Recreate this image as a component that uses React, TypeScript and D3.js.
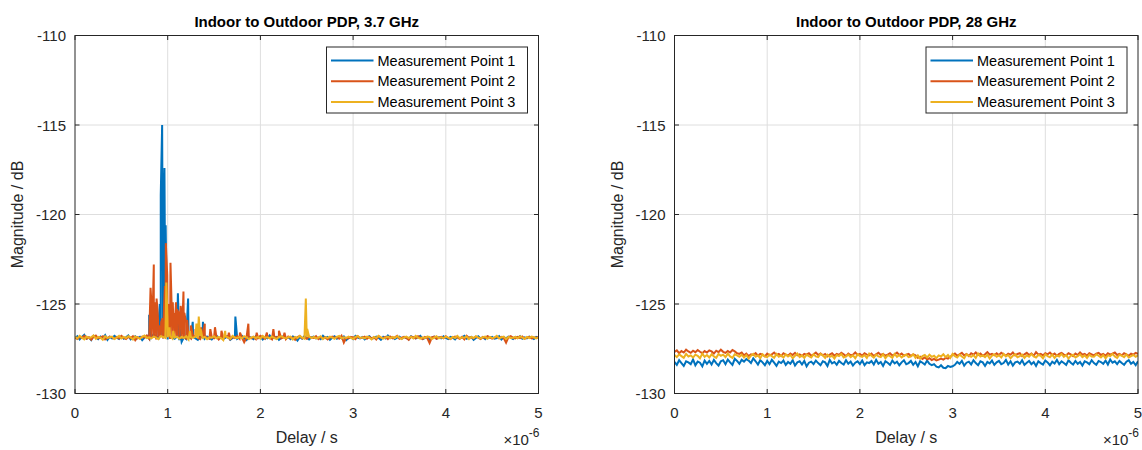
import React, { useEffect, useRef } from "react";
import * as d3 from "d3";

const delayTicks = [0, 1, 2, 3, 4, 5];
const magTicks = [-130, -125, -120, -115, -110];
const seriesNames = ["Measurement Point 1", "Measurement Point 2", "Measurement Point 3"];
const seriesColors = ["#0072BD", "#D95319", "#EDB120"];
const titles = ["Indoor to Outdoor PDP, 3.7 GHz", "Indoor to Outdoor PDP, 28 GHz"];

// noise floor: offsets from the base level in 0.02 dB steps, evenly spaced over 0..5 us
const floorUnit = 0.02;
const base37 = [-127.08, -127.08, -127.08];
const floor37mp1 = [
  8, 14, 5, 12, 18, 7, 10, 3, 15, 11, 6, 13, 9, 17, 4, 12, 8, 15, 10, 6,
  13, 7, 11, 16, 5, 9, 14, 8, 12, 3, 10, 15, 7, 11, 20, 13, 9, 16, 8, 12,
  5, 14, 10, 7, 13, 3, -2, 11, 6, 15, 9, 12, 8, 4, 14, 10, 7, 13, 9, 5,
  11, 16, 8, 12, 6, 10, 14, 4, 9, 13, 7, 11, 15, 8, 3, 12, 10, 6, 14, 9,
  13, 5, 11, 8, 16, 7, 10, 12, 4, 9, 15, 8, 11, 6, 13, 10, 2, 12, 7, 14,
  9, 5, 11, 13, 8, 10, 6, 15, 9, 12, 4, 10, 14, 7, 11, 8, 13, 3, 9, 12,
  6, 15, 10, 8, 12, 5, 11, 14, 7, 9, 13, 10, 4, 12, 8, 16, 9, 11, 6, 10,
  13, 7, 12, 9, 5, 14, 10, 8, 11, 15, 6, 9, 12, 4, 10, 13, 7, 11, 8, 14,
  9, 6, 12, 10, 5, 13, 8, 11, 15, 7, 10, 12, 4, 9, 14, 8, 11, 6, 13, 10,
  12, 7, 9, 14, 5, 11, 8, 13, 10, 6, 12, 9, 14, 7, 11, 8, 13, 10, 6, 12, 9,
];
const floor37mp2 = [
  10, 6, 13, 9, 15, 7, 11, 4, 12, 16, 8, 10, 14, 5, 9, 13, 11, 7, 12, 8,
  15, 10, 6, 12, 9, 14, 3, 11, 8, 13, 10, 16, 7, 12, 9, 5, 11, 14, 8, 10,
  13, 6, 12, 9, 15, 11, 7, 10, 4, 13, 8, 12, 16, 9, 6, 11, 14, 10, 7, 12,
  9, 13, 5, 11, 8, 15, 10, 6, 12, 9, 14, 7, 11, -3, 10, 13, 8, 12, 6, 9,
  15, 11, 7, 13, 9, 5, 12, 10, 14, 8, 11, 6, 13, 9, 10, 4, 12, 15, 8, 11,
  7, 13, 10, 9, 14, 6, 12, 8, 11, 5, 10, 13, 9, 12, 7, 15, -4, 10, 8, 12,
  11, 6, 14, 9, 10, 13, 7, 12, 8, 11, 5, 14, 10, 9, 12, 6, 13, 8, 11, 15,
  7, 10, 12, 9, 4, 13, 11, 8, 14, 10, 6, 12, 9, -5, 11, 13, 7, 10, 12, 8,
  14, 9, 6, 11, 13, 10, 7, 12, 5, 15, 9, 11, 8, 13, 10, 6, 12, 9, 14, 11,
  7, 10, 13, 8, 12, 9, -4, 11, 14, 10, 8, 12, 9, 13, 7, 10, 12, 8, 11, 9, 12,
];
const floor37mp3 = [
  12, 8, 15, 10, 5, 13, 9, 11, 16, 7, 12, 10, 4, 14, 9, 11, 13, 6, 10, 15,
  8, 12, 9, 14, 11, 5, 13, 10, 7, 12, 16, 9, 11, 8, 13, 10, 6, 14, 12, 9,
  11, 15, 8, 10, 13, 7, 12, 9, 14, 5, 11, 10, 13, 8, 15, 9, 12, 6, 11, 10,
  14, 8, 12, 9, 3, 13, 11, 7, 15, 10, 9, 12, 8, 14, 11, 6, 10, 13, 9, 12,
  7, 15, 10, 11, 8, 13, 9, 6, 12, 14, 10, 8, 11, 13, 5, 12, 9, 15, 10, 7,
  11, 13, 9, 12, 8, 10, 14, 6, 11, 9, 13, 10, 7, 12, 15, 8, 11, 9, 13, 10,
  6, 12, 14, 9, 11, 8, 13, 10, 5, 12, 9, 15, 11, 7, 10, 13, 8, 12, 9, 14,
  10, 6, 11, 13, 9, 12, 8, 15, 10, 7, 11, 9, 13, 12, 6, 10, 14, 8, 11, 9,
  13, 10, 7, 12, 9, 15, 8, 11, 10, 13, 6, 12, 9, 14, 10, 8, 11, 13, 7, 12,
  9, 10, 15, 8, 11, 13, 6, 12, 9, 10, 12, 8, 14, 10, 7, 12, 9, 13, 11, 8, 10,
];

// multipath spikes [delay us, dB]
const peaks37mp1 = [
  [0.8, -125.6], [0.9, -126.2], [0.915, -125.0], [0.925, -118.9], [0.94, -115.0],
  [0.952, -121.5], [0.965, -117.4], [0.978, -120.6], [0.99, -125.5], [1.005, -126.0],
  [1.11, -124.4], [1.125, -126.2], [1.22, -124.7], [1.27, -126.0], [1.38, -126.0],
  [1.73, -125.7],
];
const peaks37mp2 = [
  [0.815, -124.1], [0.825, -125.0], [0.835, -125.5], [0.842, -124.6], [0.85, -122.8],
  [0.865, -124.9], [0.872, -125.6], [0.88, -124.7], [0.888, -125.2], [0.895, -125.8],
  [0.905, -126.2], [0.93, -126.0], [0.945, -125.8], [0.96, -125.2], [0.97, -124.0],
  [0.98, -121.6], [0.995, -123.4], [1.01, -125.0], [1.02, -125.4], [1.03, -122.7],
  [1.045, -125.6], [1.055, -124.9], [1.06, -125.9], [1.07, -125.5], [1.08, -125.8],
  [1.09, -124.9], [1.1, -125.3], [1.12, -125.5], [1.13, -126.0], [1.14, -125.1],
  [1.15, -125.6], [1.16, -125.9], [1.17, -124.3], [1.18, -125.5], [1.19, -125.8],
  [1.2, -126.0], [1.21, -125.9], [1.25, -126.2], [1.3, -126.4], [1.36, -126.3],
  [1.4, -126.1], [1.46, -126.4], [1.51, -126.3], [1.58, -126.5], [1.66, -126.6],
  [1.78, -126.6], [1.87, -126.1], [1.96, -126.6], [2.07, -126.6], [2.14, -126.4],
  [2.2, -126.5], [2.26, -126.6],
];
const peaks37mp3 = [
  [0.985, -123.8], [0.998, -125.8], [1.02, -126.3], [1.06, -126.5], [1.24, -126.5],
  [1.31, -126.1], [1.335, -125.7], [1.355, -126.4], [1.62, -126.5], [2.49, -124.7],
  [2.505, -126.4],
];

const base28 = [-128.3, -127.95, -127.93];
const floor28mp1 = [
  3, -5, 8, 0, -8, 5, 2, -3, 10, -6, 4, 1, -9, 7, -2, 6, -4, 9, 0, -7,
  5, 8, -3, 10, 2, -5, 12, 6, -2, 9, 4, 11, 7, 0, 13, 5, -4, 8, 2, -6,
  6, -3, 9, 1, -8, 4, 0, 7, -5, 3, -2, 8, -7, 2, 5, -4, 6, -9, 1, 4,
  -3, 7, 0, -6, 5, 2, -8, 9, -1, 3, -5, 6, 0, -4, 8, -2, 4, -7, 1, 5,
  -3, 7, -6, 2, 0, 6, -4, 9, -2, 3, -8, 5, 1, -5, 7, -1, 4, -6, 2, 8,
  -3, 0, 6, -5, 3, -9, 5, 1, -4, 7, -2, -6, -3, -10, -12, -6, -13, -14, -8, -11,
  -9, -5, 3, -2, 6, -7, 1, 4, -4, 8, 0, -6, 5, 2, -8, 3, -1, 7, -5, 2,
  6, -3, 0, 9, -4, 5, -7, 2, 4, -2, 8, -5, 1, 6, -3, 3, -8, 5, 0, -4,
  7, 2, -6, 4, -1, 9, -3, 5, 0, -5, 8, 1, -4, 6, -2, 3, -7, 5, 2, -3,
  8, 0, -5, 6, 3, -2, 7, -4, 10, 1, 5, -3, 6, 0, -5, 4, 8, -2, 3, -6, 5,
];
const floor28mp2 = [
  14, 18, 10, 16, 12, 20, 15, 11, 17, 13, 19, 14, 10, 16, 12, 18, 15, 9, 17, 13,
  20, 14, 11, 16, 12, 19, 15, 10, 8, 12, 4, 9, 2, 7, 5, 10, 3, 8, 6, 1,
  9, 4, 7, 12, 5, 8, 2, 10, 6, 3, 9, 5, 11, 4, 7, 2, 8, 6, 10, 3,
  7, 12, 5, 9, 4, 8, 1, 6, 10, 3, 8, 5, 11, 7, 2, 9, 4, 6, 12, 5,
  8, 3, 10, 6, 4, 9, 2, 7, 11, 5, 8, 3, 6, 10, 4, 7, 12, 5, 9, 3,
  6, 8, 2, 7, 4, -3, 0, -6, -2, -7, -4, -9, -6, -10, -8, -5, -8, -3, -5, 0,
  5, 9, 3, 7, 11, 4, 8, 2, 10, 6, 12, 5, 9, 3, 7, 13, 6, 8, 4, 10,
  5, 11, 7, 3, 9, 6, 12, 4, 8, 10, 2, 7, 11, 5, 9, 3, 13, 6, 8, 4,
  10, 7, 12, 5, 9, 3, 8, 11, 6, 4, 10, 7, 2, 9, 5, 12, 6, 8, 3, 10,
  7, 4, 9, 11, 5, 8, 3, 10, 6, 9, 12, 5, 8, 4, 10, 7, 3, 9, 6, 11, 8,
];
const floor28mp3 = [
  4, -2, 6, 1, -4, 7, 0, 3, -3, 5, 2, -5, 8, -1, 4, -3, 6, 0, -4, 7,
  2, 5, -2, 8, 0, -4, 6, 3, -1, 5, -3, 4, -6, 2, 7, -1, 3, -5, 6, 0,
  -2, 5, 1, -4, 7, -1, 3, -3, 6, 0, 4, -5, 2, 8, -2, 3, -4, 5, 1, -3,
  6, 0, -2, 7, 3, -4, 5, -1, 2, -6, 4, 1, 7, -3, 0, 5, -2, 3, -5, 6,
  1, -1, 4, -4, 8, 2, -3, 5, 0, -2, 6, -5, 3, 1, -4, 7, -1, 4, -3, 2,
  5, -2, 0, 6, -4, 3, -6, 1, 4, -3, 5, -1, 2, -5, 3, 0, 6, -2, 4, -4,
  7, 1, -3, 5, 0, -5, 6, 2, -1, 4, -4, 8, 0, 3, -2, 5, -6, 2, 6, -1,
  3, -3, 7, 0, 4, -5, 2, 6, -2, 1, 5, -4, 3, -1, 7, 0, -3, 4, 2, -5,
  6, 1, -2, 5, -4, 3, 0, 7, -1, 4, -6, 2, 5, -3, 1, 6, -2, 3, -4, 5,
  0, -1, 6, 2, -3, 4, -5, 3, 1, 7, 0, -4, 5, 2, -2, 6, -3, 1, 4, -1, 3,
];

const panels = [
  {
    title: titles[0],
    bases: base37,
    floors: [floor37mp1, floor37mp2, floor37mp3],
    peaks: [peaks37mp1, peaks37mp2, peaks37mp3],
  },
  {
    title: titles[1],
    bases: base28,
    floors: [floor28mp1, floor28mp2, floor28mp3],
    peaks: [[], [], []],
  },
];

const font = "'Liberation Sans', Arial, Helvetica, sans-serif";
const textColor = "#262626";

function App() {
  const svgRef = useRef(null);

  useEffect(() => {
    let svg = d3.select(svgRef.current);
    svg.selectAll("*").remove();

    let lefts = [75, 674.5];
    let plotWidth = 463.5;
    let top = 35.5;
    let bottom = 393.5;

    panels.forEach((panel, p) => {
      let x0 = lefts[p];
      let x1 = x0 + plotWidth;

      let xScale = d3.scaleLinear().domain([0, 5]).range([x0, x1]);
      let yScale = d3.scaleLinear().domain([-130, -110]).range([bottom, top]);

      let g = svg.append("g");

      g.append("rect")
        .attr("x", x0)
        .attr("y", top)
        .attr("width", plotWidth)
        .attr("height", bottom - top)
        .style("fill", "#ffffff");

      // grid
      g.selectAll(".vgrid")
        .data(delayTicks.slice(1, -1))
        .enter()
        .append("line")
        .attr("x1", (d) => xScale(d))
        .attr("x2", (d) => xScale(d))
        .attr("y1", top)
        .attr("y2", bottom)
        .style("stroke", "#dedede")
        .style("stroke-width", 1);

      g.selectAll(".hgrid")
        .data(magTicks.slice(1, -1))
        .enter()
        .append("line")
        .attr("x1", x0)
        .attr("x2", x1)
        .attr("y1", (d) => yScale(d))
        .attr("y2", (d) => yScale(d))
        .style("stroke", "#dedede")
        .style("stroke-width", 1);

      let clipId = "clip-" + p;
      svg.append("clipPath")
        .attr("id", clipId)
        .append("rect")
        .attr("x", x0)
        .attr("y", top)
        .attr("width", plotWidth)
        .attr("height", bottom - top);

      let line = d3
        .line()
        .x((d) => xScale(d[0]))
        .y((d) => yScale(d[1]));

      panel.floors.forEach((floor, s) => {
        let step = 5 / (floor.length - 1);
        let pts = floor.map((v, i) => [i * step, panel.bases[s] + v * floorUnit]);
        let all = pts.concat(panel.peaks[s]).sort((a, b) => a[0] - b[0]);

        g.append("path")
          .datum(all)
          .attr("d", line)
          .attr("clip-path", "url(#" + clipId + ")")
          .style("fill", "none")
          .style("stroke", seriesColors[s])
          .style("stroke-width", 2)
          .style("stroke-linejoin", "miter");
      });

      // box and ticks
      g.append("rect")
        .attr("x", x0)
        .attr("y", top)
        .attr("width", plotWidth)
        .attr("height", bottom - top)
        .style("fill", "none")
        .style("stroke", textColor)
        .style("stroke-width", 1);

      delayTicks.forEach((t) => {
        g.append("line")
          .attr("x1", xScale(t))
          .attr("x2", xScale(t))
          .attr("y1", bottom)
          .attr("y2", bottom - 4.5)
          .style("stroke", textColor);
        g.append("line")
          .attr("x1", xScale(t))
          .attr("x2", xScale(t))
          .attr("y1", top)
          .attr("y2", top + 4.5)
          .style("stroke", textColor);
        g.append("text")
          .attr("x", xScale(t))
          .attr("y", 418)
          .attr("text-anchor", "middle")
          .style("font-family", font)
          .style("font-size", "15px")
          .style("fill", textColor)
          .text(t);
      });

      magTicks.forEach((m) => {
        g.append("line")
          .attr("x1", x0)
          .attr("x2", x0 + 4.5)
          .attr("y1", yScale(m))
          .attr("y2", yScale(m))
          .style("stroke", textColor);
        g.append("line")
          .attr("x1", x1)
          .attr("x2", x1 - 4.5)
          .attr("y1", yScale(m))
          .attr("y2", yScale(m))
          .style("stroke", textColor);
        g.append("text")
          .attr("x", x0 - 9)
          .attr("y", yScale(m) + 5.5)
          .attr("text-anchor", "end")
          .style("font-family", font)
          .style("font-size", "15px")
          .style("fill", textColor)
          .text(m);
      });

      // title and labels
      g.append("text")
        .attr("x", (x0 + x1) / 2)
        .attr("y", 27)
        .attr("text-anchor", "middle")
        .style("font-family", font)
        .style("font-size", "15px")
        .style("font-weight", "bold")
        .style("fill", "#000000")
        .text(panel.title);

      g.append("text")
        .attr("x", (x0 + x1) / 2)
        .attr("y", 443)
        .attr("text-anchor", "middle")
        .style("font-family", font)
        .style("font-size", "16px")
        .style("fill", textColor)
        .text("Delay / s");

      g.append("text")
        .attr("transform", "translate(" + (x0 - 52) + "," + (top + bottom) / 2 + "), rotate(-90)")
        .attr("text-anchor", "middle")
        .style("font-family", font)
        .style("font-size", "16px")
        .style("fill", textColor)
        .text("Magnitude / dB");

      let expo = g
        .append("text")
        .attr("x", x1 + 1)
        .attr("y", 445)
        .attr("text-anchor", "end")
        .style("font-family", font)
        .style("font-size", "15px")
        .style("fill", textColor);
      expo.append("tspan").text("\u00d710");
      expo.append("tspan").attr("dy", -8).style("font-size", "12px").text("-6");

      // legend
      let lx = x1 - 212;
      let ly = 47;
      g.append("rect")
        .attr("x", lx)
        .attr("y", ly)
        .attr("width", 201)
        .attr("height", 66)
        .style("fill", "#ffffff")
        .style("stroke", textColor)
        .style("stroke-width", 1);

      seriesNames.forEach((name, s) => {
        let cy = ly + 13.5 + s * 20.8;
        g.append("line")
          .attr("x1", lx + 4.5)
          .attr("x2", lx + 47)
          .attr("y1", cy)
          .attr("y2", cy)
          .style("stroke", seriesColors[s])
          .style("stroke-width", 2);
        g.append("text")
          .attr("x", lx + 51)
          .attr("y", cy + 5)
          .style("font-family", font)
          .style("font-size", "14.5px")
          .style("fill", "#000000")
          .text(name);
      });
    });
  }, []);

  return (
    <svg
      ref={svgRef}
      width={1142}
      height={450}
      style={{ position: "absolute", left: 0, top: 0, background: "#ffffff" }}
    ></svg>
  );
}

export default App;
